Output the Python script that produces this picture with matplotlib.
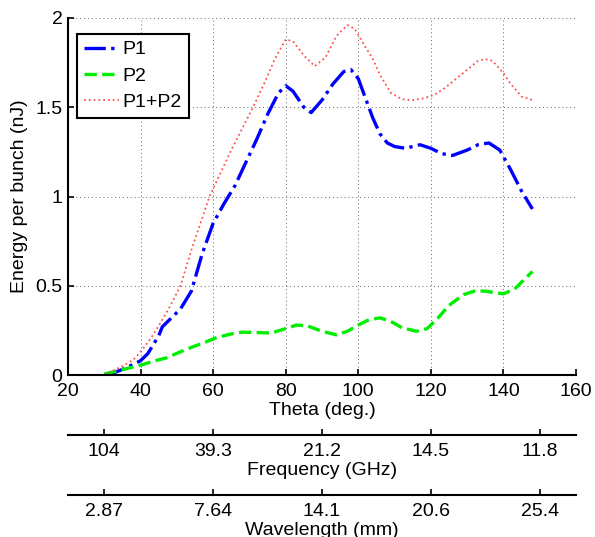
import numpy as np
import matplotlib
matplotlib.use("Agg")
import matplotlib.pyplot as plt

plt.rcParams['font.family'] = ['Liberation Sans', 'DejaVu Sans']

# P1 (blue, dash-dot)
theta_p1 = [30, 33, 36, 40, 42, 45, 46, 48, 51, 54, 57, 60, 63, 66, 69, 72, 75, 78, 80, 82,
            85, 87, 90, 93, 96, 98, 100, 102, 104, 106, 108, 110, 113, 117, 120, 123, 126,
            130, 133, 136, 139, 142, 145, 148]
p1 = [0.0, 0.015, 0.04, 0.08, 0.12, 0.22, 0.27, 0.31, 0.37, 0.47, 0.68, 0.85, 0.96, 1.06,
      1.19, 1.32, 1.46, 1.58, 1.62, 1.59, 1.50, 1.47, 1.54, 1.63, 1.70, 1.71, 1.66, 1.55,
      1.44, 1.35, 1.30, 1.28, 1.27, 1.29, 1.27, 1.24, 1.23, 1.26, 1.29, 1.30, 1.26, 1.15,
      1.03, 0.93]

# P2 (green, dashed)
theta_p2 = [30, 35, 40, 44, 47, 51, 54, 58, 61, 65, 68, 72, 76, 80, 83, 86, 90, 94, 97, 100,
            103, 106, 109, 112, 116, 119, 122, 125, 129, 132, 135, 138, 140, 143, 145, 148]
p2 = [0.005, 0.03, 0.055, 0.08, 0.095, 0.13, 0.155, 0.185, 0.21, 0.23, 0.24, 0.238, 0.235,
      0.26, 0.28, 0.275, 0.245, 0.225, 0.245, 0.28, 0.31, 0.32, 0.30, 0.265, 0.245, 0.26,
      0.32, 0.39, 0.45, 0.47, 0.47, 0.46, 0.455, 0.48, 0.52, 0.58]

# P1+P2 (red, dotted)
theta_sum = [30, 32, 35, 38, 40, 43, 46, 48, 51, 54, 57, 59, 62, 65, 68, 71, 74, 77, 80, 82,
             85, 88, 91, 94, 97, 99, 101, 104, 106, 109, 112, 115, 118, 121, 124, 127, 130,
             133, 135, 137, 140, 142, 145, 148]
psum = [0.0, 0.02, 0.05, 0.085, 0.13, 0.21, 0.31, 0.38, 0.50, 0.70, 0.88, 1.0, 1.13, 1.26,
        1.38, 1.50, 1.63, 1.77, 1.88, 1.87, 1.79, 1.73, 1.78, 1.90, 1.96, 1.94, 1.87, 1.77,
        1.68, 1.58, 1.545, 1.54, 1.55, 1.57, 1.61, 1.66, 1.71, 1.76, 1.77, 1.76, 1.69, 1.63,
        1.56, 1.54]

# secondary scales
sec_ticks = [30, 60, 90, 120, 150]
freq_labels = ['104', '39.3', '21.2', '14.5', '11.8']
wave_labels = ['2.87', '7.64', '14.1', '20.6', '25.4']

fs = 14
fig = plt.figure(figsize=(5.95, 5.37), dpi=100)
ax = fig.add_axes([68/595, (537-375)/537, 508/595, 357/537])

ax.plot(theta_p1, p1, color='blue', linestyle='-.', linewidth=2.4, label='P1')
ax.plot(theta_p2, p2, color='#00ee00', linestyle='--', linewidth=2.4, label='P2')
ax.plot(theta_sum, psum, color='#ff5050', linestyle=':', linewidth=1.3, label='P1+P2')

ax.set_xlim(20, 160)
ax.set_ylim(0, 2)
ax.set_xticks(np.arange(20, 161, 20))
ax.set_yticks([0, 0.5, 1, 1.5, 2])
ax.set_yticklabels(['0', '0.5', '1', '1.5', '2'])
ax.grid(True, linestyle=(0, (1, 3)), color='#666666', linewidth=0.7)
for s in ['top', 'right']:
    ax.spines[s].set_visible(False)
for s in ['left', 'bottom']:
    ax.spines[s].set_linewidth(1.5)
ax.tick_params(direction='in', length=4, width=1.2, labelsize=fs)
ax.tick_params(axis='x', pad=6)
ax.tick_params(axis='y', pad=4)
ax.set_xlabel('Theta (deg.)', fontsize=fs, labelpad=1)
ax.set_ylabel('Energy per bunch (nJ)', fontsize=fs, labelpad=5)

leg = ax.legend(loc='upper left', bbox_to_anchor=(0.018, 0.955), borderaxespad=0,
                fontsize=fs, fancybox=False, framealpha=1, edgecolor='black',
                handlelength=1.8, handletextpad=0.2, borderpad=0.35, labelspacing=0.45)
leg.get_frame().set_linewidth(1.5)


def scale_axis(y_px, labels, title):
    a = fig.add_axes([68/595, (537-y_px)/537, 508/595, 1e-4])
    a.set_xlim(20, 160)
    a.set_yticks([])
    for s in ['top', 'left', 'right']:
        a.spines[s].set_visible(False)
    a.spines['bottom'].set_linewidth(1.5)
    a.set_facecolor('none')
    a.set_xticks(sec_ticks)
    a.set_xticklabels(labels)
    a.tick_params(axis='x', direction='in', length=4, width=1.2, labelsize=fs, pad=6)
    a.set_xlabel(title, fontsize=fs, labelpad=1)
    return a


scale_axis(435, freq_labels, 'Frequency (GHz)')
scale_axis(495, wave_labels, 'Wavelength (mm)')

fig.savefig('out.png', dpi=100)
